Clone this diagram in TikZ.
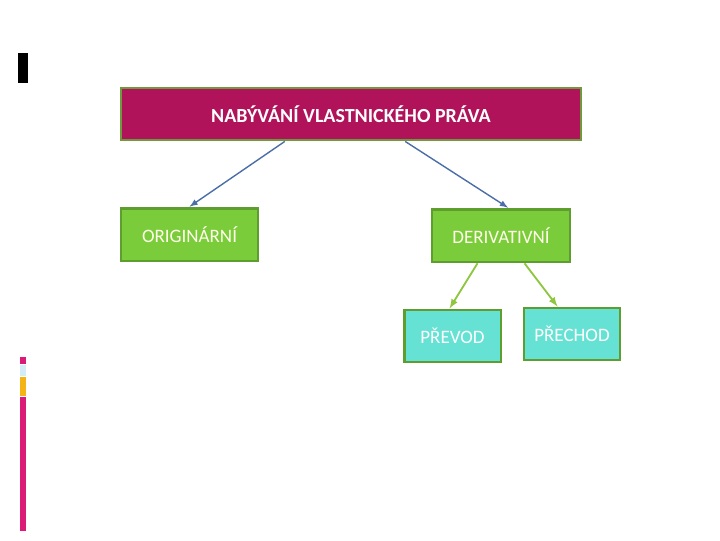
\documentclass[tikz,border=0pt]{standalone}
\usepackage{fontspec}
\setmainfont{Carlito}
\usetikzlibrary{calc}
\definecolor{berry}{HTML}{B0135A}
\definecolor{olivegreen}{HTML}{6E9A3C}
\definecolor{leaf}{HTML}{7BCC3A}
\definecolor{leafdark}{HTML}{5E9E2E}
\definecolor{aqua}{HTML}{66E2D4}
\definecolor{arrowblue}{HTML}{4B6EA8}
\definecolor{arrowgreen}{HTML}{8DC63F}
\definecolor{stripepink}{HTML}{DC1B78}
\definecolor{stripeblue}{HTML}{D4ECF6}
\definecolor{stripeorange}{HTML}{F4B416}

\begin{document}
\begin{tikzpicture}[x=0.025cm,y=-0.025cm,
  topbox/.style={draw=olivegreen,line width=2pt,fill=berry,text=white,
    font=\bfseries\fontsize{14.2}{16}\selectfont},
  kindbox/.style={draw=leafdark,line width=2pt,fill=leaf,text=white!92!yellow,
    font=\fontsize{13.5}{15}\selectfont},
  wayboxx/.style={draw=leafdark,line width=2pt,fill=aqua,text=white,
    font=\fontsize{13.5}{15}\selectfont},
  bluearrow/.style={->,>=latex,arrowblue,line width=1pt},
  greenarrow/.style={->,>=latex,arrowgreen,line width=1.3pt}]
\useasboundingbox (0,0) rectangle (720,540);

% Side bars
\fill[black] (18,53) rectangle (28,83);
\fill[stripepink] (20,357) rectangle (26,364);
\fill[stripeblue] (20,365) rectangle (26,376);
\fill[stripeorange] (20,377) rectangle (26,396);
\fill[stripepink] (20,397) rectangle (26,531);

% Boxes
\node[topbox,minimum width=11.5cm,minimum height=1.3cm] (nabyvani) at (351,114) {NABÝVÁNÍ VLASTNICKÉHO PRÁVA};
\node[kindbox,minimum width=3.42cm,minimum height=1.32cm] (orig) at (189.5,234.5) {ORIGINÁRNÍ};
\node[kindbox,minimum width=3.45cm,minimum height=1.32cm] (deriv) at (501,235.5) {DERIVATIVNÍ};
\node[wayboxx,minimum width=2.42cm,minimum height=1.3cm] (prevod) at (452.5,336) {PŘEVOD};
\node[wayboxx,minimum width=2.4cm,minimum height=1.3cm] (prechod) at (572,334) {PŘECHOD};

% Arrows
\draw[bluearrow] ($(nabyvani.south west)!0.357!(nabyvani.south east)$) -- (orig.north);
\draw[bluearrow] ($(nabyvani.south west)!0.617!(nabyvani.south east)$) -- ($(deriv.north west)!0.55!(deriv.north east)$);
\draw[greenarrow] ($(deriv.south west)!0.333!(deriv.south east)$) -- ($(prevod.north west)!0.47!(prevod.north east)$);
\draw[greenarrow] ($(deriv.south west)!0.667!(deriv.south east)$) -- ($(prechod.north west)!0.354!(prechod.north east)$);
\end{tikzpicture}
\end{document}
